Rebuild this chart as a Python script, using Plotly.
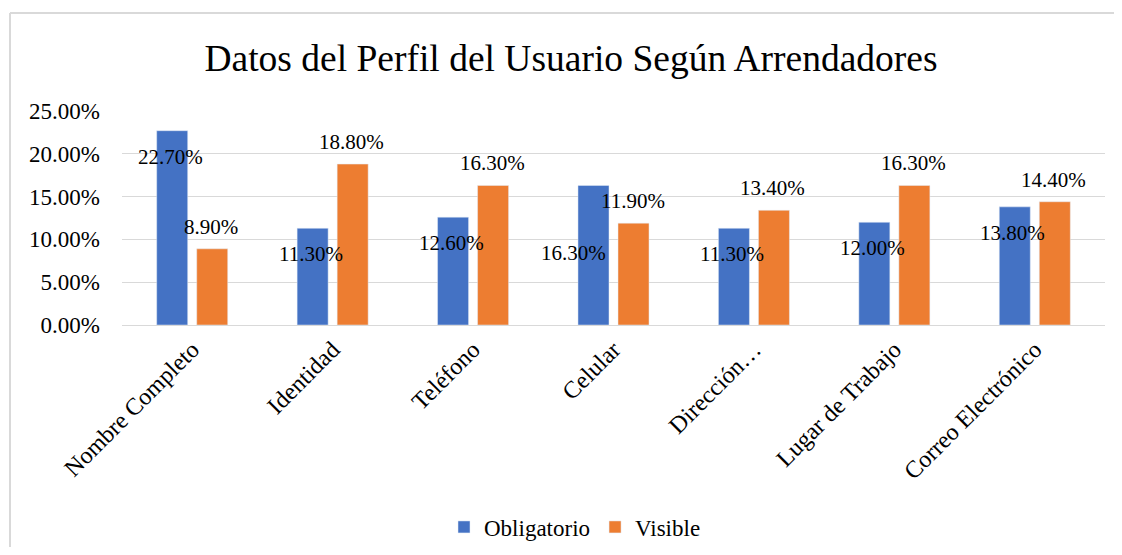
import plotly.graph_objects as go

categories = ["Nombre Completo", "Identidad", "Teléfono", "Celular", "Dirección…",
              "Lugar de Trabajo", "Correo Electrónico"]
obligatorio = [22.7, 11.3, 12.6, 16.3, 11.3, 12.0, 13.8]
visible = [8.9, 18.8, 16.3, 11.9, 13.4, 16.3, 14.4]
y_ticks = [0, 5, 10, 15, 20, 25]
y_tick_labels = [f"{v:.2f}%" for v in y_ticks]

FONT = "Liberation Serif, Times New Roman, serif"
BLUE = "#4472C4"
ORANGE = "#ED7D31"

# page has an 8px body margin
W, H = 1114, 539
L, T = 114, 103
PW, PH = 983, 214

# label placement tweaks (pixels) for the "Obligatorio" labels, by category index
oblig_label_shift = {3: (-40, -68)}

fig = go.Figure()
fig.add_trace(go.Bar(name="Obligatorio", x=categories, y=obligatorio, marker_color=BLUE))
fig.add_trace(go.Bar(name="Visible", x=categories, y=visible, marker_color=ORANGE))

annotations = []
for i, (c, v) in enumerate(zip(categories, obligatorio)):
    xs, ys = oblig_label_shift.get(i, (-22, -26))
    annotations.append(dict(x=c, y=v, text=f"{v:.2f}%", showarrow=False, xref="x", yref="y",
                            xshift=xs, yshift=ys, font=dict(family=FONT, size=21, color="black")))
for c, v in zip(categories, visible):
    annotations.append(dict(x=c, y=v, text=f"{v:.2f}%", showarrow=False, xref="x", yref="y",
                            xshift=19, yshift=22, font=dict(family=FONT, size=21, color="black")))

BORDER = dict(color="#D9D9D9", width=2)

fig.update_layout(
    width=W, height=H,
    margin=dict(l=L, r=W - L - PW, t=T, b=H - T - PH, pad=0, autoexpand=False),
    paper_bgcolor="white", plot_bgcolor="white",
    barmode="group", bargap=0.43, bargroupgap=0.225,
    title=dict(text="Datos del Perfil del Usuario Según Arrendadores", x=(571 - 8 - L) / PW,
               xref="paper", xanchor="center",
               y=1 - 50 / H, yanchor="middle",
               font=dict(family=FONT, size=37.5, color="black")),
    font=dict(family=FONT, color="black"),
    xaxis=dict(tickangle=-45, tickfont=dict(family=FONT, size=24, color="black"),
               showline=True, linecolor="#D9D9D9", linewidth=1, ticks="", showgrid=False,
               automargin=False),
    yaxis=dict(range=[0, 25], tickvals=y_ticks, ticktext=y_tick_labels,
               tickfont=dict(family=FONT, size=23, color="black"),
               showgrid=True, gridcolor="#D9D9D9", gridwidth=1, zeroline=False, ticks="",
               showline=False, ticklabelstandoff=21, automargin=False),
    legend=dict(orientation="h", x=(575 - 8 - L) / PW, xanchor="center",
                y=-(527 - 8 - T - PH) / PH, yanchor="middle",
                font=dict(family=FONT, size=23, color="black"), itemwidth=30,
                traceorder="normal"),
    annotations=annotations,
    shapes=[
        dict(type="line", xref="paper", yref="paper",
             x0=(2 - L) / PW, x1=(2 - L) / PW, y0=-(H - T - PH + 10) / PH, y1=(T + PH - 5) / PH,
             line=BORDER),
        dict(type="line", xref="paper", yref="paper",
             x0=(2 - L) / PW, x1=(W + 10 - L) / PW, y0=(T + PH - 5) / PH, y1=(T + PH - 5) / PH,
             line=BORDER),
    ],
)

fig.write_html("out.html")
